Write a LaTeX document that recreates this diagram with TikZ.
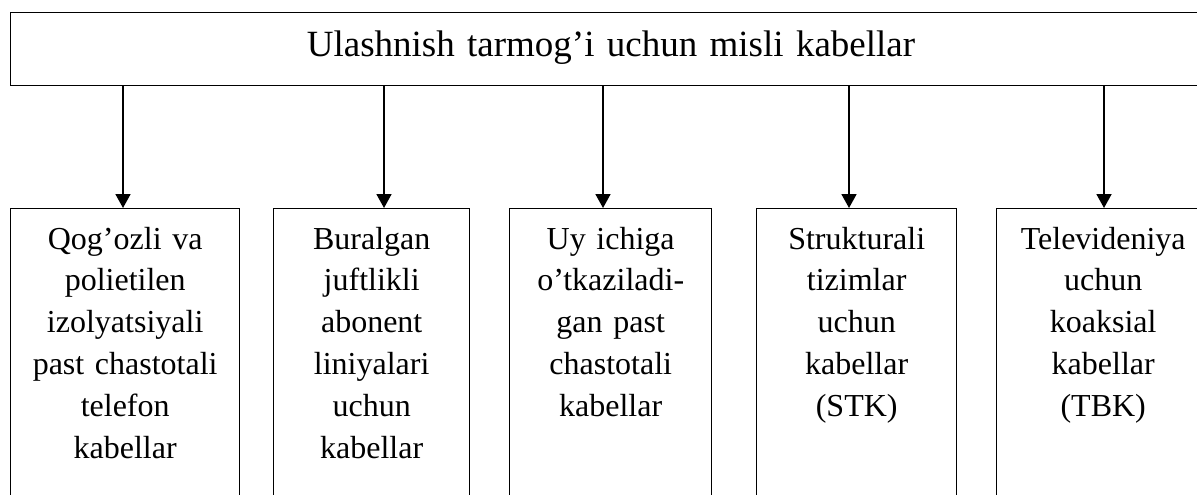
\documentclass[tikz,border=0pt]{standalone}
\usepackage{fontspec}
\setmainfont{Liberation Serif}
\usetikzlibrary{arrows.meta}
\begin{document}
\begin{tikzpicture}[x=1pt,y=1pt,
  frame/.style={draw=black, line width=1.4pt, inner sep=0pt, anchor=north west},
  caption/.style={inner sep=0pt, anchor=base, align=center, text width=#1,
    font=\fontsize{32}{41.8}\selectfont},
  link/.style={line width=1.8pt, -{Triangle[length=14pt,width=15pt]}}]
  \clip (0,0) rectangle (1197,-495);

  % header
  \node[frame, minimum width=1200pt, minimum height=73pt] (top) at (10,-12) {};
  \node[caption=1000pt, font=\fontsize{37}{44}\selectfont] (toptext) at (611,-57) {Ulashnish tarmog’i uchun misli kabellar};

  % category boxes
  \node[frame, minimum width=229pt, minimum height=330pt] (b1) at (10,-208) {};
  \node[frame, minimum width=196pt, minimum height=330pt] (b2) at (273,-208) {};
  \node[frame, minimum width=202pt, minimum height=330pt] (b3) at (509,-208) {};
  \node[frame, minimum width=200pt, minimum height=330pt] (b4) at (756,-208) {};
  \node[frame, minimum width=213pt, minimum height=330pt] (b5) at (996,-208) {};

  \node[caption=225pt] (t1) at ([yshift=-41pt]b1.north) {Qog’ozli va\\polietilen\\izolyatsiyali\\past chastotali\\telefon\\kabellar};
  \node[caption=190pt] (t2) at ([yshift=-41pt]b2.north) {Buralgan\\juftlikli\\abonent\\liniyalari\\uchun\\kabellar};
  \node[caption=196pt] (t3) at ([yshift=-41pt]b3.north) {Uy ichiga\\o’tkaziladi-\\gan past\\chastotali\\kabellar};
  \node[caption=196pt] (t4) at ([yshift=-41pt]b4.north) {Strukturali\\tizimlar\\uchun\\kabellar\\(STK)};
  \node[caption=210pt] (t5) at ([yshift=-41pt]b5.north) {Televideniya\\uchun\\koaksial\\kabellar\\(TBK)};

  % arrow columns
  \coordinate (c1) at (123,0);
  \coordinate (c2) at (384,0);
  \coordinate (c3) at (603,0);
  \coordinate (c4) at (849,0);
  \coordinate (c5) at (1104,0);

  \foreach \i in {1,...,5}
    \draw[link] (top.south -| c\i) -- (b\i.north -| c\i);
\end{tikzpicture}
\end{document}
